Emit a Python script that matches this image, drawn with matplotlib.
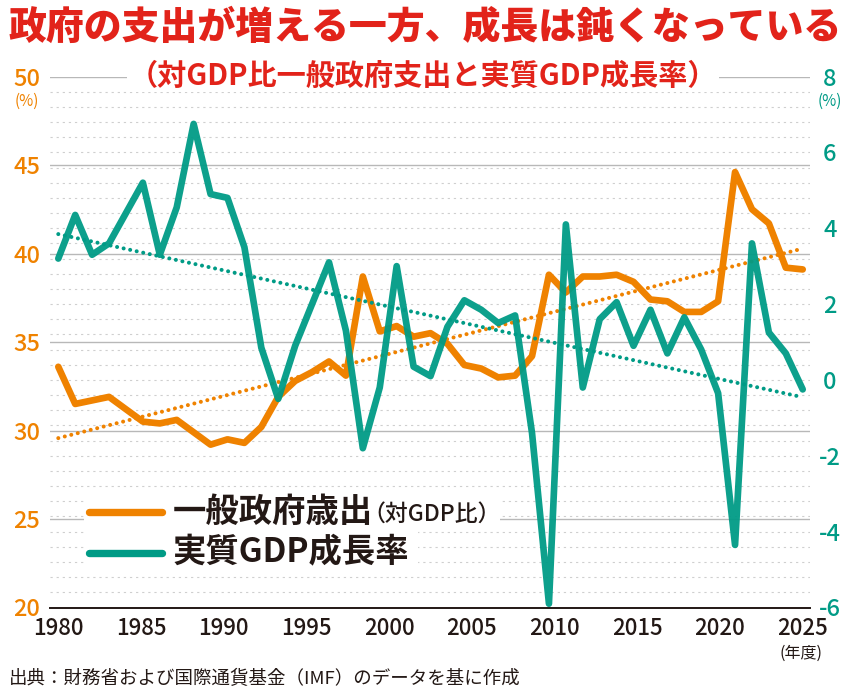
import numpy as np
import matplotlib
matplotlib.use("Agg")
import matplotlib.pyplot as plt
from matplotlib.lines import Line2D
from matplotlib.patches import Rectangle

plt.rcParams['font.family'] = ['Noto Sans CJK JP', 'DejaVu Sans']

# ---- data ----
years = np.arange(1980, 2025)

# general government expenditure, % of GDP (left axis)
spending = [33.6, 31.5, 31.7, 31.9, 31.2, 30.5, 30.4, 30.6, 29.9, 29.2,
            29.5, 29.3, 30.2, 31.9, 32.8, 33.3, 33.9, 33.1, 38.7, 35.6,
            35.9, 35.3, 35.5, 34.9, 33.7, 33.5, 33.0, 33.1, 34.2, 38.8,
            37.8, 38.7, 38.7, 38.8, 38.4, 37.4, 37.3, 36.7, 36.7, 37.3,
            44.6, 42.5, 41.7, 39.2, 39.1]

# real GDP growth, % (right axis)
growth = [3.2, 4.35, 3.3, 3.6, 4.4, 5.2, 3.3, 4.55, 6.75, 4.9,
          4.8, 3.5, 0.85, -0.5, 0.9, 2.0, 3.1, 1.3, -1.8, -0.2,
          3.0, 0.35, 0.1, 1.4, 2.1, 1.85, 1.5, 1.7, -1.4, -5.9,
          4.1, -0.2, 1.6, 2.05, 0.9, 1.85, 0.7, 1.65, 0.8, -0.35,
          -4.35, 3.6, 1.25, 0.7, -0.25]

xtick_labels = ['1980', '1985', '1990', '1995', '2000',
                '2005', '2010', '2015', '2020', '2025']
left_ticks = [20, 25, 30, 35, 40, 45, 50]
right_ticks = [-6, -4, -2, 0, 2, 4, 6, 8]

# ---- style ----
ORANGE = '#EF8200'
TEAL = '#009B86'
RED = '#E2231A'
DARK = '#231815'
W, H = 850, 695


def fx(px):
    return px / W


def fy(py):
    return 1 - py / H


fig = plt.figure(figsize=(8.5, 6.95), dpi=100)
ax = fig.add_axes([fx(50), fy(607.5), 760 / W, 531 / H])
ax2 = ax.twinx()

ax.set_xlim(1979.51, 2024.43)
ax.set_ylim(20, 50)
ax2.set_ylim(-6, 8)

# gridlines: solid on left-axis majors, dotted every 0.4 of the right axis
minor_right = np.arange(-6, 8.001, 0.4)
minor_left = 20 + (minor_right + 6) * 30 / 14
ax.set_yticks(minor_left, minor=True)
ax.set_axisbelow(True)
ax.grid(axis='y', which='major', color='#b8b8b8', lw=1.0, ls='-')
ax.grid(axis='y', which='minor', color='#cfcfcf', lw=0.8, ls=(0, (2, 3.5)))
ax.tick_params(axis='y', which='minor', length=0)

for s in ['left', 'right', 'top']:
    ax.spines[s].set_visible(False)
for s in ax2.spines.values():
    s.set_visible(False)
ax.spines['bottom'].set_color(DARK)
ax.spines['bottom'].set_linewidth(1.4)

# lines
ax.plot(years, spending, color=ORANGE, lw=4.8, solid_capstyle='round',
        solid_joinstyle='round', zorder=3)
ax2.plot(years, growth, color=TEAL, lw=4.8, solid_capstyle='round',
         solid_joinstyle='round', alpha=0.95, zorder=3)

# linear trends
c1 = np.polyfit(years, spending, 1)
c2 = np.polyfit(years, growth, 1)
dots = (0, (0.01, 1.65))
ax.plot(years, np.polyval(c1, years), color=ORANGE, lw=2.9, ls=dots,
        dash_capstyle='round', zorder=4)
ax2.plot(years, np.polyval(c2, years), color=TEAL, lw=2.9, ls=dots,
         dash_capstyle='round', zorder=4)

# ticks
ax.set_xticks(np.linspace(years[0], years[-1], len(xtick_labels)))
ax.set_xticklabels(xtick_labels, fontweight='medium')
ax.tick_params(axis='x', length=0, pad=7, labelsize=16, labelcolor=DARK)

ax.set_yticks(left_ticks)
ax.set_yticklabels([str(v) for v in left_ticks], fontweight='medium')
ax.tick_params(axis='y', which='major', length=0, pad=7, labelsize=17,
               labelcolor=ORANGE)

ax2.set_yticks(right_ticks)
ax2.set_yticklabels([str(v) for v in right_ticks], fontweight='medium')
ax2.tick_params(axis='y', length=0, pad=14.4, labelsize=17, labelcolor=TEAL)
for t in ax2.get_yticklabels():
    t.set_ha('center')

fig.text(fx(27), fy(101), '(%)', color=ORANGE, fontsize=11,
         ha='center', va='center')
fig.text(fx(830), fy(101), '(%)', color=TEAL, fontsize=11,
         ha='center', va='center')
fig.text(fx(801), fy(653), '(年度)', color=DARK, fontsize=11.5,
         ha='center', va='center')

# titles
fig.text(0.5, fy(28), '政府の支出が増える一方、成長は鈍くなっている', color=RED,
         fontsize=27.3, fontweight='black', ha='center', va='center')
fig.text(fx(423), fy(76), '（対GDP比一般政府支出と実質GDP成長率）', color=RED,
         fontsize=21, fontweight='bold', ha='center', va='center',
         bbox=dict(facecolor='white', edgecolor='none', pad=1))

# legend (drawn by hand)
fig.patches.append(Rectangle((fx(84), fy(531)), 416 / W, 38 / H,
                             transform=fig.transFigure, facecolor='white',
                             edgecolor='none', zorder=1))
fig.patches.append(Rectangle((fx(84), fy(573)), 334 / W, 42 / H,
                             transform=fig.transFigure, facecolor='white',
                             edgecolor='none', zorder=1))
fig.lines.append(Line2D([fx(89), fx(162)], [fy(512), fy(512)], color=ORANGE,
                        lw=5.3, solid_capstyle='round',
                        transform=fig.transFigure, zorder=2))
fig.lines.append(Line2D([fx(89), fx(162)], [fy(553), fy(553)], color=TEAL,
                        lw=5.3, solid_capstyle='round',
                        transform=fig.transFigure, zorder=2))
fig.text(fx(173), fy(512), '一般政府歳出', color=DARK, fontsize=24,
         fontweight='bold', ha='left', va='center', zorder=3)
fig.text(fx(362), fy(514), '（対GDP比）', color=DARK, fontsize=16.5,
         fontweight='medium', ha='left', va='center', zorder=3)
fig.text(fx(173), fy(553), '実質GDP成長率', color=DARK, fontsize=24,
         fontweight='bold', ha='left', va='center', zorder=3)

# source
fig.text(fx(9), fy(679), '出典：財務省および国際通貨基金（IMF）のデータを基に作成',
         color=DARK, fontsize=13.3, ha='left', va='center')

fig.savefig('out.png', dpi=100, facecolor='white')
